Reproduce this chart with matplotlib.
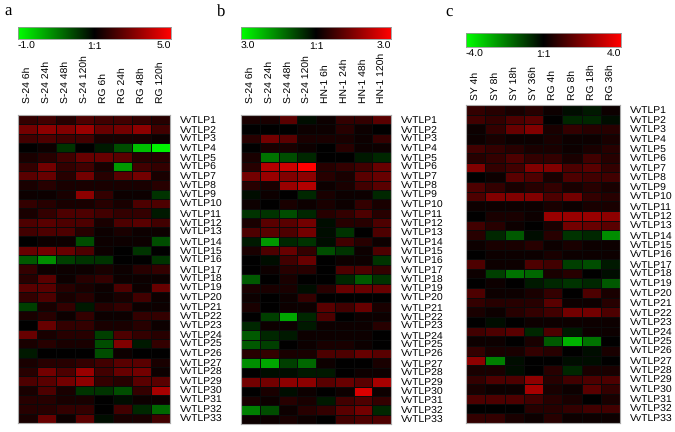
import numpy as np
import matplotlib
matplotlib.use("Agg")
import matplotlib.pyplot as plt
from matplotlib.colors import LinearSegmentedColormap

plt.rcParams['font.family'] = ['Liberation Sans', 'DejaVu Sans']
plt.rcParams['text.hinting'] = 'no_hinting'

genes = ["VvTLP%d" % i for i in range(1, 34)]

cols_a = ["S-24 6h", "S-24 24h", "S-24 48h", "S-24 120h", "RG 6h", "RG 24h", "RG 48h", "RG 120h"]
cols_b = ["S-24 6h", "S-24 24h", "S-24 48h", "S-24 120h", "HN-1 6h", "HN-1 24h", "HN-1 48h", "HN-1 120h"]
cols_c = ["SY 4h", "SY 8h", "SY 18h", "SY 36h", "RG 4h", "RG 8h", "RG 18h", "RG 36h"]

cbar_a = ["-1.0", "1:1", "5.0"]
cbar_b = ["3.0", "1:1", "3.0"]
cbar_c = ["-4.0", "1:1", "4.0"]

# relative expression, scaled to the colour bar (-1 = full green, 1 = full red)
vals_a = [
    [0.2, 0.25, 0.15, 0.3, 0.25, 0.25, 0.2, 0.15],
    [0.45, 0.55, 0.5, 0.6, 0.4, 0.45, 0.55, 0.25],
    [0.25, 0.3, 0.25, 0.25, 0.1, 0.1, 0.1, 0.05],
    [0.0, 0.05, -0.2, 0.0, -0.1, -0.3, -0.75, -0.95],
    [0.1, 0.15, 0.25, 0.4, 0.4, 0.35, 0.15, 0.15],
    [0.2, 0.45, 0.2, 0.25, 0.1, -0.6, 0.25, 0.2],
    [0.35, 0.4, 0.15, 0.45, 0.15, 0.35, 0.45, 0.1],
    [0.1, 0.15, 0.1, 0.1, 0.1, 0.1, 0.1, 0.15],
    [0.05, 0.05, 0.1, 0.55, 0.2, 0.05, 0.05, -0.2],
    [0.2, 0.15, 0.1, 0.1, 0.15, 0.1, 0.3, 0.3],
    [0.1, 0.2, 0.3, 0.3, 0.25, 0.2, 0.2, -0.1],
    [0.3, 0.35, 0.3, 0.3, 0.1, 0.3, 0.35, 0.25],
    [0.25, 0.3, 0.3, 0.15, 0.05, 0.1, 0.05, 0.05],
    [0.0, 0.05, 0.05, -0.3, 0.05, 0.05, 0.05, -0.3],
    [0.4, 0.45, 0.4, 0.3, 0.05, 0.0, -0.2, 0.0],
    [-0.35, -0.55, -0.25, -0.2, -0.2, 0.0, 0.0, -0.2],
    [0.2, 0.05, 0.05, 0.05, 0.1, 0.05, 0.15, 0.2],
    [0.15, 0.35, 0.05, 0.15, 0.2, 0.05, 0.05, 0.05],
    [0.35, 0.35, 0.15, 0.1, 0.05, 0.3, 0.05, 0.4],
    [0.2, 0.3, 0.1, 0.15, 0.05, 0.1, 0.25, 0.05],
    [-0.25, 0.1, 0.2, -0.1, 0.15, 0.2, 0.05, 0.05],
    [0.1, 0.15, 0.05, 0.2, 0.05, 0.05, 0.2, 0.2],
    [0.0, 0.4, 0.2, 0.2, 0.1, 0.1, 0.15, 0.05],
    [0.4, 0.1, 0.15, 0.15, -0.25, 0.3, 0.2, 0.15],
    [0.1, 0.15, 0.1, 0.1, -0.3, 0.5, -0.1, 0.2],
    [-0.1, 0.0, 0.0, 0.0, -0.3, 0.05, 0.0, 0.0],
    [0.1, 0.15, 0.15, 0.2, 0.25, 0.35, 0.35, 0.1],
    [0.15, 0.45, 0.3, 0.6, 0.25, 0.4, 0.45, 0.05],
    [0.3, 0.35, 0.45, 0.55, 0.2, 0.15, 0.35, 0.35],
    [0.1, 0.3, 0.1, -0.2, -0.2, -0.3, 0.2, 0.65],
    [0.15, 0.15, 0.1, 0.1, 0.0, -0.05, 0.05, 0.05],
    [0.15, 0.15, 0.2, 0.2, 0.0, 0.25, -0.15, -0.4],
    [0.1, 0.4, 0.05, 0.35, -0.05, 0.1, 0.1, 0.25],
]

vals_b = [
    [0.1, 0.1, 0.35, -0.05, 0.05, 0.2, 0.2, 0.35],
    [0.0, 0.0, 0.0, 0.05, 0.05, 0.15, 0.05, 0.0],
    [0.15, 0.45, 0.35, 0.1, 0.1, 0.1, 0.05, 0.2],
    [0.0, 0.1, 0.1, 0.05, 0.0, 0.15, 0.05, 0.05],
    [0.1, -0.45, -0.3, -0.15, 0.0, 0.0, -0.1, -0.15],
    [0.15, 0.7, 0.8, 1.0, 0.15, 0.2, 0.25, 0.4],
    [0.45, 0.6, 0.5, 0.55, 0.15, 0.1, 0.35, 0.4],
    [0.15, 0.1, 0.6, 0.7, 0.05, 0.1, 0.25, 0.35],
    [-0.05, 0.05, 0.0, -0.15, 0.1, 0.05, 0.05, -0.15],
    [0.05, 0.0, 0.1, 0.05, 0.1, 0.05, 0.2, 0.1],
    [-0.2, -0.2, -0.3, -0.15, 0.15, 0.2, 0.3, 0.15],
    [0.1, 0.35, 0.35, 0.45, -0.05, 0.15, 0.15, 0.3],
    [0.3, 0.35, 0.3, 0.45, -0.05, -0.2, 0.0, 0.3],
    [-0.1, -0.6, -0.15, -0.2, -0.05, 0.25, 0.15, 0.05],
    [0.1, 0.3, 0.4, 0.2, -0.3, -0.2, 0.05, 0.3],
    [0.0, -0.05, 0.25, 0.4, 0.0, 0.05, 0.05, -0.2],
    [0.0, 0.05, 0.15, 0.15, 0.0, 0.3, 0.3, 0.2],
    [-0.35, 0.0, 0.1, 0.0, 0.0, -0.15, -0.35, -0.2],
    [0.1, 0.1, 0.1, -0.05, 0.15, 0.4, 0.4, 0.4],
    [0.05, 0.0, 0.05, 0.2, 0.0, 0.0, 0.0, 0.0],
    [0.1, 0.0, 0.05, 0.05, 0.35, 0.25, 0.4, 0.1],
    [0.0, -0.25, -0.65, -0.15, 0.3, 0.0, 0.05, 0.05],
    [-0.15, 0.05, 0.05, -0.1, 0.05, 0.05, 0.05, 0.15],
    [-0.35, -0.15, -0.1, 0.05, 0.05, 0.05, 0.05, 0.0],
    [-0.35, -0.25, 0.0, 0.05, 0.1, 0.1, 0.05, 0.0],
    [0.15, 0.2, 0.1, 0.1, 0.3, 0.3, 0.4, 0.35],
    [-0.55, -0.65, -0.25, -0.4, 0.05, 0.0, 0.0, 0.1],
    [0.0, -0.05, -0.05, -0.1, -0.1, 0.0, 0.05, 0.05],
    [0.45, 0.45, 0.55, 0.55, 0.35, 0.4, 0.35, 0.65],
    [0.0, 0.1, -0.05, 0.05, 0.0, 0.05, 0.85, 0.05],
    [0.1, 0.05, 0.15, 0.1, -0.1, 0.25, 0.3, 0.2],
    [-0.5, -0.3, 0.05, 0.15, 0.2, 0.35, 0.45, -0.15],
    [0.05, 0.05, 0.1, 0.05, 0.0, 0.25, 0.3, 0.3],
]

vals_c = [
    [0.2, 0.15, 0.1, 0.15, 0.05, -0.05, -0.1, 0.05],
    [0.25, 0.2, 0.3, 0.35, 0.0, -0.15, -0.15, -0.05],
    [0.05, 0.2, 0.4, 0.5, 0.1, 0.2, 0.15, 0.15],
    [0.05, 0.1, 0.05, 0.05, 0.1, 0.05, 0.05, 0.1],
    [0.25, 0.2, 0.15, 0.1, 0.1, 0.05, 0.1, 0.15],
    [0.15, 0.2, 0.3, 0.2, 0.2, 0.1, 0.25, 0.15],
    [0.5, 0.2, 0.25, 0.5, 0.5, 0.3, 0.35, 0.2],
    [0.0, 0.05, 0.35, 0.3, 0.1, 0.3, 0.25, 0.25],
    [0.3, 0.2, 0.1, 0.15, 0.2, 0.1, 0.15, 0.1],
    [0.3, 0.5, 0.5, 0.5, 0.3, 0.45, 0.2, 0.15],
    [0.05, 0.05, 0.05, 0.05, 0.1, 0.05, 0.1, 0.1],
    [0.0, 0.1, 0.1, 0.05, 0.6, 0.6, 0.6, 0.55],
    [0.25, 0.15, 0.05, 0.0, 0.1, 0.45, 0.4, 0.35],
    [0.15, -0.15, -0.35, -0.05, 0.15, -0.2, -0.15, -0.55],
    [0.05, 0.1, 0.1, 0.15, 0.05, 0.1, 0.05, 0.05],
    [0.0, 0.05, 0.05, 0.05, 0.1, 0.05, 0.05, 0.05],
    [0.3, 0.05, 0.05, 0.3, 0.25, -0.25, -0.3, -0.1],
    [0.05, -0.25, -0.45, -0.4, 0.1, 0.15, 0.0, -0.05],
    [0.0, 0.05, 0.0, -0.1, -0.15, -0.2, -0.15, -0.35],
    [0.3, 0.05, 0.05, 0.1, 0.2, 0.0, 0.3, 0.1],
    [0.2, 0.15, 0.15, 0.15, 0.35, 0.05, 0.05, 0.15],
    [0.1, 0.05, 0.15, 0.2, 0.25, 0.45, 0.45, 0.3],
    [0.0, -0.05, 0.0, 0.05, 0.05, 0.05, 0.05, 0.05],
    [0.25, 0.3, 0.35, -0.15, 0.3, -0.1, 0.05, 0.05],
    [0.05, 0.05, 0.0, 0.1, -0.35, -0.7, -0.45, 0.0],
    [0.2, 0.1, 0.1, 0.2, 0.15, 0.0, -0.05, 0.1],
    [0.55, -0.5, -0.05, 0.0, 0.0, -0.05, -0.05, 0.0],
    [0.1, 0.1, -0.05, 0.0, 0.15, -0.15, 0.1, 0.1],
    [0.2, 0.3, 0.3, 0.55, 0.15, 0.25, 0.3, 0.3],
    [0.1, 0.05, 0.05, 0.65, 0.1, 0.05, 0.35, 0.2],
    [0.3, 0.3, 0.3, 0.25, 0.15, 0.1, 0.0, 0.1],
    [0.0, 0.0, 0.0, 0.15, 0.15, 0.2, 0.25, 0.25],
    [0.2, 0.2, 0.1, 0.05, 0.15, 0.05, 0.05, 0.05],
]

gr = LinearSegmentedColormap.from_list("gr", [(0, 1, 0), (0, 0, 0), (1, 0, 0)])

W, H = 675, 432


def px(x0, y0, x1, y1):
    # pixel box -> figure fraction rect
    return [x0 / W, 1 - y1 / H, (x1 - x0) / W, (y1 - y0) / H]


def colorbar(fig, rect, labels):
    cax = fig.add_axes(rect)
    grad = np.linspace(-1, 1, 256)[None, :]
    cax.imshow(grad, cmap=gr, aspect="auto", extent=[-1, 1, 0, 1])
    cax.set_yticks([])
    cax.set_xticks([-1, 0, 1], labels, fontsize=7.5)
    cax.tick_params(axis="x", length=0, pad=2)
    tl = cax.get_xticklabels()
    tl[0].set_horizontalalignment("left")
    tl[2].set_horizontalalignment("right")
    for s in cax.spines.values():
        s.set_color("#999999")
        s.set_linewidth(0.6)


def heatmap(fig, rect, vals, cols, toppad):
    ax = fig.add_axes(rect)
    data = np.array(vals)
    ax.pcolormesh(data, cmap=gr, vmin=-1, vmax=1, edgecolors="#0a0a0a", linewidth=0.4)
    ax.set_xlim(0, data.shape[1])
    ax.set_ylim(data.shape[0], 0)
    ax.xaxis.tick_top()
    ax.set_xticks(np.arange(len(cols)) + 0.5, cols, rotation=90, fontsize=7.5)
    ax.yaxis.tick_right()
    ax.set_yticks(np.arange(len(genes)) + 0.5, genes, fontsize=7.5)
    ax.tick_params(axis="x", length=0, pad=toppad)
    ax.tick_params(axis="y", length=0, pad=7)
    for s in ax.spines.values():
        s.set_color("#aaaaaa")
        s.set_linewidth(0.8)
    return ax


fig = plt.figure(figsize=(6.75, 4.32), dpi=100)

heatmap(fig, px(18, 115, 170, 423), vals_a, cols_a, 8.5)
colorbar(fig, px(18, 27, 171, 39), cbar_a)

heatmap(fig, px(241, 115, 391, 424), vals_b, cols_b, 8.5)
colorbar(fig, px(241, 27, 391, 39), cbar_b)

heatmap(fig, px(466, 105, 620, 423), vals_c, cols_c, 3.5)
colorbar(fig, px(466, 33, 621, 47), cbar_c)

for lab, x in zip(["a", "b", "c"], [4, 217, 445]):
    fig.text(x / W, 1 - 12 / H, lab, fontsize=12, family="Liberation Serif", va="center", ha="left")

fig.savefig("out.png", dpi=100)
